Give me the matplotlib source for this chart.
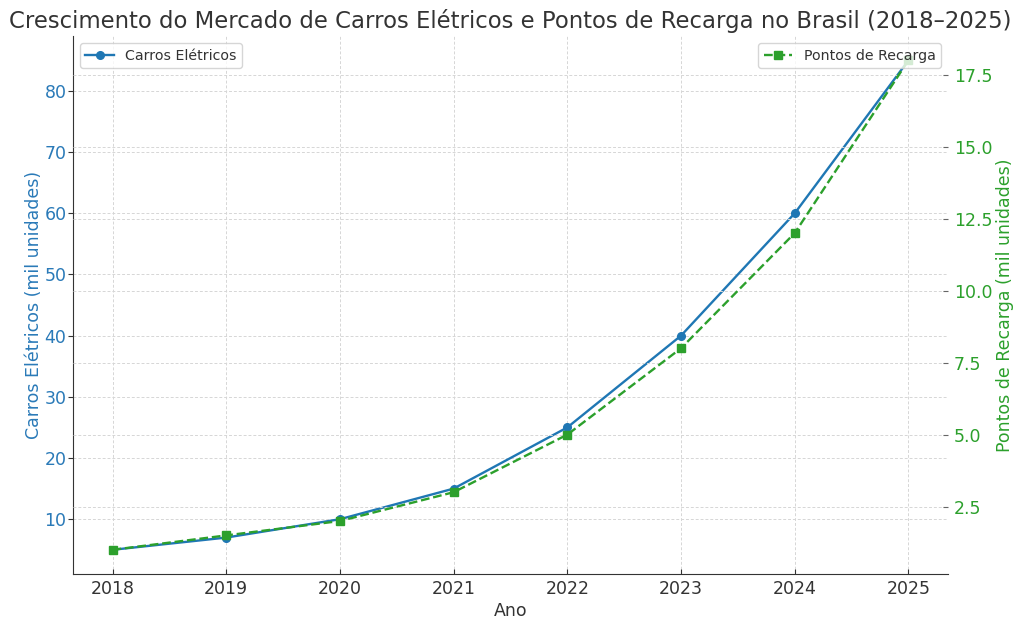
import matplotlib
matplotlib.use("Agg")
import matplotlib.pyplot as plt

anos = [2018, 2019, 2020, 2021, 2022, 2023, 2024, 2025]
carros = [5, 7, 10, 15, 25, 40, 60, 85]
pontos = [1, 1.5, 2, 3, 5, 8, 12, 18]

plt.rcParams['font.family'] = ['DejaVu Sans']
plt.rcParams['text.color'] = '#333333'
plt.rcParams['axes.labelcolor'] = '#333333'

azul = '#2a7ab8'
verde = '#2ca02c'
grade = dict(linestyle=(0, (3, 2)), color='#d6d6d6', linewidth=0.7)

fig, ax1 = plt.subplots(figsize=(10.24, 6.29), dpi=100)
fig.subplots_adjust(left=0.071, right=0.926, top=0.943, bottom=0.087)

ax1.plot(anos, carros, marker='o', color='#1f77b4', label='Carros Elétricos', linewidth=1.7, markersize=5.5)
ax1.set_xlabel('Ano', fontsize=12.5, labelpad=3)
ax1.set_ylabel('Carros Elétricos (mil unidades)', color=azul, fontsize=12.5, labelpad=1)
ax1.tick_params(axis='y', labelcolor=azul, labelsize=12.5, color='#333333', length=3.5, pad=1)
ax1.tick_params(axis='x', labelsize=12.5, colors='#333333', length=3.5, direction='in', pad=4)
ax1.grid(True, **grade)
ax1.spines['top'].set_visible(False)
ax1.spines['right'].set_visible(False)
ax1.spines['left'].set_color('#333333')
ax1.spines['bottom'].set_color('#333333')

ax2 = ax1.twinx()
ax2.plot(anos, pontos, marker='s', linestyle='--', color=verde, label='Pontos de Recarga', linewidth=1.7, markersize=5.5)
ax2.set_ylabel('Pontos de Recarga (mil unidades)', color=verde, fontsize=12.5, labelpad=3)
ax2.tick_params(axis='y', labelcolor=verde, labelsize=12.5, color='#666666', length=3.5,
                direction='in', pad=4)
ax2.grid(True, **grade)
for s in ['top', 'right', 'left', 'bottom']:
    ax2.spines[s].set_visible(False)

ax1.set_title('Crescimento do Mercado de Carros Elétricos e Pontos de Recarga no Brasil (2018–2025)',
              fontsize=16.4, color='#333333')
ax1.legend(loc='upper left', fontsize=10.2)
ax2.legend(loc='upper right', fontsize=10.2)

plt.savefig('out.png')
